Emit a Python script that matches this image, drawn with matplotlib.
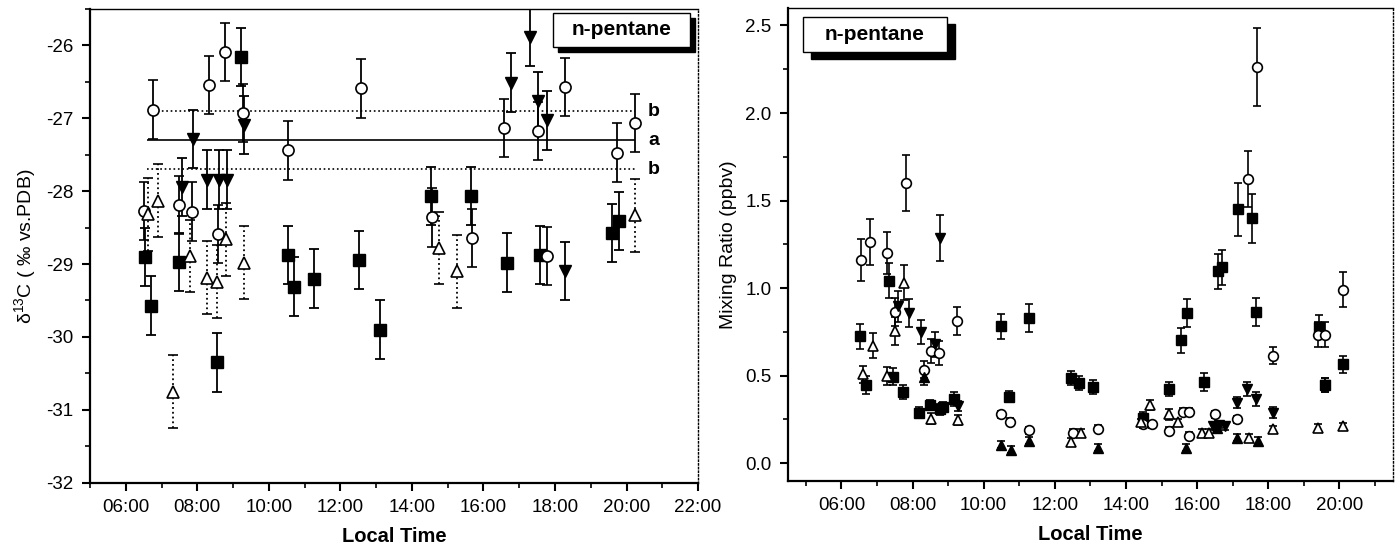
import matplotlib
matplotlib.use('Agg')
import matplotlib.pyplot as plt
from matplotlib.patches import Rectangle
from matplotlib.ticker import MultipleLocator, FuncFormatter

plt.rcParams['font.family'] = ['Liberation Sans', 'DejaVu Sans']
plt.rcParams['mathtext.fontset'] = 'custom'
plt.rcParams['mathtext.rm'] = 'Liberation Sans'
plt.rcParams['mathtext.it'] = 'Liberation Sans:italic'
plt.rcParams['axes.unicode_minus'] = False

# ---- left panel: delta 13C of n-pentane ----
sq_t = [6.53, 6.70, 7.50, 8.54, 9.21, 10.53, 10.70, 11.26, 12.53, 13.10, 14.52, 15.64, 16.66, 17.59, 19.60, 19.78]
sq_d = [-28.90, -29.57, -28.97, -30.35, -26.16, -28.88, -29.31, -29.20, -28.94, -29.90, -28.07, -28.07, -28.98, -28.88, -28.57, -28.41]

ci_t = [6.51, 6.77, 7.50, 7.84, 8.33, 8.58, 8.77, 9.29, 10.53, 12.59, 14.57, 15.68, 16.58, 17.52, 17.77, 18.29, 19.73, 20.23]
ci_d = [-28.27, -26.88, -28.19, -28.28, -26.54, -28.59, -26.09, -26.93, -27.44, -26.59, -28.36, -28.64, -27.13, -27.17, -28.89, -26.57, -27.47, -27.06]

dt_t = [7.58, 7.88, 8.28, 8.60, 8.84, 9.31, 16.78, 17.29, 17.52, 17.79, 18.29]
dt_d = [-27.94, -27.28, -27.84, -27.84, -27.84, -27.09, -26.51, -25.88, -26.76, -27.03, -29.10]

ut_t = [6.61, 6.89, 7.31, 7.80, 8.28, 8.54, 8.80, 9.31, 14.76, 15.25, 20.23]
ut_d = [-28.32, -28.13, -30.75, -28.89, -29.19, -29.24, -28.66, -28.98, -28.78, -29.10, -28.33]

d_err = 0.4
ut_err = 0.5
mean_a = -27.3
band_b = [-26.9, -27.7]

# ---- right panel: mixing ratio (ppbv) ----
msq_t = [6.52, 6.70, 7.35, 7.46, 7.74, 8.18, 8.48, 8.76, 8.87, 9.16, 10.50, 10.70, 11.26, 12.46, 12.69, 13.06, 14.48, 15.22, 15.56, 15.71, 16.19, 16.58, 16.70, 17.14, 17.54, 17.65, 19.42, 19.59, 20.10]
msq_v = [0.725, 0.446, 1.042, 0.494, 0.406, 0.289, 0.332, 0.308, 0.321, 0.368, 0.782, 0.380, 0.830, 0.488, 0.456, 0.437, 0.260, 0.425, 0.702, 0.858, 0.465, 1.095, 1.118, 1.450, 1.399, 0.862, 0.778, 0.445, 0.564]
msq_e = [0.07, 0.05, 0.10, 0.05, 0.04, 0.03, 0.03, 0.03, 0.03, 0.04, 0.07, 0.03, 0.08, 0.04, 0.04, 0.04, 0.03, 0.04, 0.07, 0.08, 0.05, 0.10, 0.10, 0.15, 0.14, 0.08, 0.07, 0.04, 0.05]

mci_t = [6.54, 6.79, 7.28, 7.51, 7.81, 8.31, 8.53, 8.74, 9.25, 10.50, 10.75, 11.26, 12.51, 13.21, 14.48, 14.73, 15.22, 15.61, 15.78, 15.78, 16.49, 17.12, 17.44, 17.68, 18.14, 19.39, 19.59, 20.10]
mci_v = [1.158, 1.262, 1.203, 0.862, 1.602, 0.535, 0.640, 0.630, 0.814, 0.279, 0.237, 0.188, 0.175, 0.198, 0.222, 0.222, 0.184, 0.294, 0.294, 0.156, 0.279, 0.251, 1.621, 2.263, 0.615, 0.735, 0.735, 0.991]
mci_e = [0.12, 0.13, 0.12, 0.08, 0.16, 0.05, 0.07, 0.07, 0.08, 0.02, 0.02, 0.02, 0.02, 0.02, 0.02, 0.02, 0.02, 0.02, 0.02, 0.02, 0.02, 0.02, 0.16, 0.225, 0.05, 0.07, 0.07, 0.10]

mdt_t = [7.60, 7.90, 8.23, 8.62, 8.78, 9.27, 16.45, 16.62, 16.78, 17.12, 17.39, 17.65, 18.14, 19.59]
mdt_v = [0.896, 0.858, 0.748, 0.678, 1.285, 0.326, 0.21, 0.22, 0.21, 0.346, 0.421, 0.368, 0.289, 0.445]
mdt_e = [0.09, 0.08, 0.07, 0.07, 0.13, 0.03, 0.02, 0.02, 0.02, 0.03, 0.04, 0.04, 0.03, 0.04]

mut_t = [6.61, 6.88, 7.28, 7.51, 7.76, 8.53, 9.27, 12.46, 12.74, 14.41, 14.68, 15.22, 15.47, 16.14, 16.33, 17.46, 18.14, 19.39, 20.10]
mut_v = [0.507, 0.672, 0.497, 0.757, 1.032, 0.254, 0.247, 0.121, 0.175, 0.235, 0.332, 0.279, 0.235, 0.175, 0.175, 0.146, 0.194, 0.203, 0.212]
mut_e = [0.05, 0.07, 0.05, 0.08, 0.10, 0.03, 0.03, 0.02, 0.02, 0.02, 0.03, 0.03, 0.02, 0.02, 0.02, 0.02, 0.02, 0.02, 0.02]

mft_t = [8.31, 10.50, 10.78, 11.26, 13.21, 15.68, 16.55, 17.12, 17.72]
mft_v = [0.494, 0.104, 0.076, 0.127, 0.089, 0.089, 0.20, 0.146, 0.127]
mft_e = [0.05, 0.02, 0.02, 0.02, 0.02, 0.02, 0.02, 0.02, 0.02]


def hhmm(x, pos):
    return '%02d:00' % int(round(x))


def style_axes(ax):
    ax.xaxis.set_major_locator(MultipleLocator(2))
    ax.xaxis.set_minor_locator(MultipleLocator(1))
    ax.xaxis.set_major_formatter(FuncFormatter(hhmm))
    ax.tick_params(which='major', direction='out', length=6, width=1.5, labelsize=13.5, pad=6)
    ax.tick_params(which='minor', direction='out', length=3.5, width=1.2)
    ax.spines['left'].set_linewidth(1.6)
    ax.spines['bottom'].set_linewidth(1.6)
    ax.spines['top'].set_linewidth(1.0)
    ax.spines['right'].set_linewidth(1.0)
    ax.spines['right'].set_linestyle(':')
    ax.set_xlabel('Local Time', fontsize=14.5, fontweight='bold', labelpad=8)


def label_box(ax, x0, y0, x1, y1, dx, dy):
    # black shadow, then the white box with the label
    ax.add_patch(Rectangle((x0 + dx, y0 - dy), x1 - x0, y1 - y0, transform=ax.transAxes,
                           facecolor='black', edgecolor='black', zorder=5, clip_on=False))
    ax.add_patch(Rectangle((x0, y0), x1 - x0, y1 - y0, transform=ax.transAxes,
                           facecolor='white', edgecolor='black', lw=1.0, zorder=6, clip_on=False))
    ax.text((x0 + x1) / 2, (y0 + y1) / 2, 'n-pentane', transform=ax.transAxes,
            ha='center', va='center', fontsize=15, fontweight='bold', zorder=7)


fig = plt.figure(figsize=(14, 5.51), dpi=100)
ax1 = fig.add_axes([0.0643, 0.124, 0.4343, 0.8597])
ax2 = fig.add_axes([0.5629, 0.1276, 0.4319, 0.8579])

eb = dict(color='black', capsize=3.5, elinewidth=1.3, capthick=1.3, linestyle='none', markersize=8)

ax1.errorbar(sq_t, sq_d, yerr=d_err, marker='s', mfc='black', mec='black', **eb)
ax1.errorbar(ci_t, ci_d, yerr=d_err, marker='o', mfc='white', mec='black', mew=1.2, **eb)
ax1.errorbar(dt_t, dt_d, yerr=d_err, marker='v', mfc='black', mec='black', **eb)
e = ax1.errorbar(ut_t, ut_d, yerr=ut_err, marker='^', mfc='white', mec='black', mew=1.2, **eb)
e[2][0].set_linestyle(':')

ax1.hlines(mean_a, 6.6, 20.25, color='black', lw=1.2)
ax1.hlines(band_b[0], 6.77, 20.25, color='black', lw=1.2, linestyles=':')
ax1.hlines(band_b[1], 6.6, 20.25, color='black', lw=1.2, linestyles=':')
ax1.text(20.6, band_b[0], 'b', fontsize=14, fontweight='bold', va='center')
ax1.text(20.6, mean_a, 'a', fontsize=14, fontweight='bold', va='center')
ax1.text(20.6, band_b[1], 'b', fontsize=14, fontweight='bold', va='center')

ax1.set_xlim(5, 22)
ax1.set_ylim(-32, -25.5)
ax1.yaxis.set_major_locator(MultipleLocator(1))
ax1.yaxis.set_minor_locator(MultipleLocator(0.5))
style_axes(ax1)
ax1.set_ylabel('δ$^{13}$C ( ‰ vs.PDB)', fontsize=14, labelpad=6)
label_box(ax1, 0.761, 0.920, 0.986, 0.992, 0.009, 0.011)

eb2 = dict(color='black', capsize=3, elinewidth=1.2, capthick=1.2, linestyle='none', markersize=7)
ax2.errorbar(msq_t, msq_v, yerr=msq_e, marker='s', mfc='black', mec='black', **eb2)
ax2.errorbar(mci_t, mci_v, yerr=mci_e, marker='o', mfc='white', mec='black', mew=1.2, **eb2)
ax2.errorbar(mdt_t, mdt_v, yerr=mdt_e, marker='v', mfc='black', mec='black', **eb2)
ax2.errorbar(mut_t, mut_v, yerr=mut_e, marker='^', mfc='white', mec='black', mew=1.2, **eb2)
ax2.errorbar(mft_t, mft_v, yerr=mft_e, marker='^', mfc='black', mec='black', **eb2)

ax2.set_xlim(4.5, 21.5)
ax2.set_ylim(-0.1, 2.6)
ax2.yaxis.set_major_locator(MultipleLocator(0.5))
ax2.yaxis.set_minor_locator(MultipleLocator(0.25))
ax2.yaxis.set_major_formatter(FuncFormatter(lambda v, p: '%.1f' % v))
style_axes(ax2)
ax2.set_ylabel('Mixing Ratio (ppbv)', fontsize=14, labelpad=6)
label_box(ax2, 0.0243, 0.9076, 0.2625, 0.9816, 0.013, 0.016)

fig.savefig('out.png', dpi=100)
